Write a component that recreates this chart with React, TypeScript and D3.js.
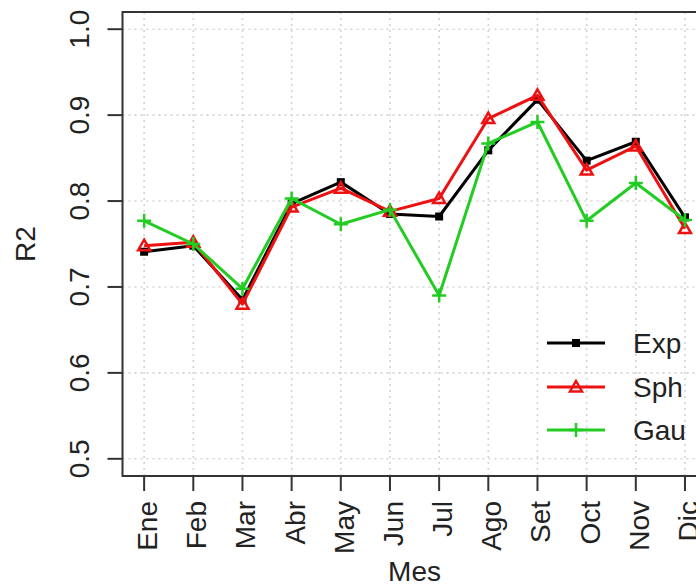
import React from "react";
import * as d3 from "d3";

const months = ["Ene", "Feb", "Mar", "Abr", "May", "Jun", "Jul", "Ago", "Set", "Oct", "Nov", "Dic"];
const expValues = [0.741, 0.748, 0.685, 0.797, 0.822, 0.785, 0.782, 0.859, 0.918, 0.847, 0.869, 0.781];
const sphValues = [0.748, 0.752, 0.680, 0.793, 0.815, 0.788, 0.803, 0.896, 0.923, 0.836, 0.864, 0.768];
const gauValues = [0.777, 0.750, 0.698, 0.803, 0.773, 0.790, 0.690, 0.867, 0.892, 0.777, 0.821, 0.778];
const yTicks = [0.5, 0.6, 0.7, 0.8, 0.9, 1.0];
const seriesNames = ["Exp", "Sph", "Gau"];

const W = 696;
const H = 586;
const left = 122.5;
const right = 706.6;
const top = 12;
const bottom = 476;
const FONT = "'Liberation Sans', Arial, sans-serif";
const TXT = "#222";

const colors: Record<string, string> = { Exp: "#000000", Sph: "#ee1111", Gau: "#22cc22" };

function Marker({ kind, x, y, color }: { kind: string; x: number; y: number; color: string }) {
  if (kind === "Exp") {
    return <rect x={x - 4} y={y - 4} width={8} height={8} fill={color} />;
  }
  if (kind === "Sph") {
    const s = 6;
    return (
      <path
        d={`M${x},${y - s} L${x + s},${y + s * 0.75} L${x - s},${y + s * 0.75} Z`}
        fill="none"
        stroke={color}
        strokeWidth={2.5}
      />
    );
  }
  return (
    <path d={`M${x - 7},${y} H${x + 7} M${x},${y - 7} V${y + 7}`} stroke={color} strokeWidth={2.5} fill="none" />
  );
}

export default function App() {
  const x = d3.scaleLinear().domain([0.56, 12.44]).range([left, right]);
  const y = d3.scaleLinear().domain([0.48, 1.02]).range([bottom, top]);
  const idx = months.map((_, i) => i + 1);
  const data: Record<string, number[]> = { Exp: expValues, Sph: sphValues, Gau: gauValues };
  const line = d3
    .line<number>()
    .x((_, i) => x(i + 1))
    .y((d) => y(d));

  const legendY = [343, 387, 430];

  return (
    <svg
      width={W}
      height={H}
      style={{ position: "absolute", left: 0, top: 0, background: "#fff" }}
      fontFamily={FONT}
    >
      <rect x={0} y={0} width={W} height={H} fill="#fff" />
      {/* grid */}
      {idx.map((i) => (
        <line
          key={"gx" + i}
          x1={x(i)}
          x2={x(i)}
          y1={top}
          y2={bottom}
          stroke="#d3d3d3"
          strokeWidth={1.6}
          strokeDasharray="2,4"
        />
      ))}
      {yTicks.map((t) => (
        <line
          key={"gy" + t}
          x1={left}
          x2={right}
          y1={y(t)}
          y2={y(t)}
          stroke="#d3d3d3"
          strokeWidth={1.6}
          strokeDasharray="2,4"
        />
      ))}
      {/* series */}
      {seriesNames.map((s) => (
        <g key={s}>
          <path d={line(data[s]) || ""} fill="none" stroke={colors[s]} strokeWidth={3} strokeLinejoin="round" />
          {data[s].map((v, i) => (
            <Marker key={i} kind={s} x={x(i + 1)} y={y(v)} color={colors[s]} />
          ))}
        </g>
      ))}
      {/* box */}
      <path d={`M${right},${top} H${left} V${bottom} H${right}`} fill="none" stroke="#333" strokeWidth={2} />
      {/* y axis */}
      {yTicks.map((t) => (
        <g key={"yt" + t}>
          <line x1={left - 15} x2={left} y1={y(t)} y2={y(t)} stroke="#333" strokeWidth={2} />
          <text
            transform={`translate(${89},${y(t)}) rotate(-90)`}
            textAnchor="middle"
            fontSize={28}
            fill={TXT}
          >
            {t.toFixed(1)}
          </text>
        </g>
      ))}
      <text transform={`translate(${35},${(top + bottom) / 2}) rotate(-90)`} textAnchor="middle" fontSize={28} fill={TXT}>
        R2
      </text>
      {/* x axis */}
      {months.map((m, i) => (
        <g key={m}>
          <line x1={x(i + 1)} x2={x(i + 1)} y1={bottom} y2={bottom + 15} stroke="#333" strokeWidth={2} />
          <text
            transform={`translate(${x(i + 1) + 13},${501}) rotate(-90)`}
            textAnchor="end"
            fontSize={28}
            fill={TXT}
          >
            {m}
          </text>
        </g>
      ))}
      <text x={(left + right) / 2} y={581} textAnchor="middle" fontSize={28} fill={TXT}>
        Mes
      </text>
      {/* legend */}
      {seriesNames.map((s, k) => (
        <g key={"lg" + s}>
          <line x1={547} x2={605} y1={legendY[k]} y2={legendY[k]} stroke={colors[s]} strokeWidth={3} />
          <Marker kind={s} x={576} y={legendY[k]} color={colors[s]} />
          <text x={633} y={legendY[k] + 10} fontSize={28} fill={TXT}>
            {s}
          </text>
        </g>
      ))}
    </svg>
  );
}
